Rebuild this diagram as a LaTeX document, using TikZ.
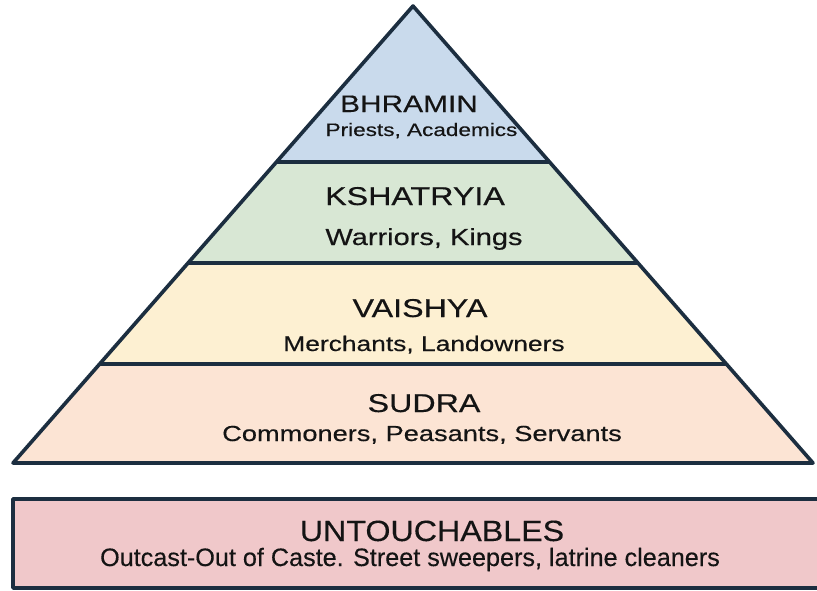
\documentclass[tikz,border=0pt]{standalone}
\usepackage{fontspec}
\newfontfamily\pyrfont[FakeStretch=1.25,FakeBold=0.4]{Liberation Sans}
\newfontfamily\boxtitlefont[FakeStretch=1.1,FakeBold=0.3]{Liberation Sans}
\newfontfamily\boxsubfont[FakeBold=0.3]{Liberation Sans}
\definecolor{edge}{HTML}{1C2E40}
\definecolor{tierA}{HTML}{C9DAEC}
\definecolor{tierB}{HTML}{D8E7D4}
\definecolor{tierC}{HTML}{FDF0D2}
\definecolor{tierD}{HTML}{FCE4D4}
\definecolor{tierE}{HTML}{F0C8CA}
\definecolor{txt}{HTML}{141414}
\tikzset{
  band/.style={draw=edge, line width=3.1pt, line join=round},
  lbl/.style={anchor=base, inner sep=0pt, text=txt},
  ttl/.style={lbl, font=\pyrfont\fontsize{22pt}{26pt}\selectfont}
}
\begin{document}
\begin{tikzpicture}[x=0.03cm, y=-0.03cm]
\useasboundingbox (0,0) rectangle (817,590);
\clip (0,0) rectangle (817,590);
% corner coordinates
\coordinate (apex) at (413,6);
\coordinate (l1) at (276.5,162); \coordinate (r1) at (549.5,162);
\coordinate (l2) at (188.1,263); \coordinate (r2) at (637.9,263);
\coordinate (l3) at (99.7,364);  \coordinate (r3) at (726.3,364);
\coordinate (l4) at (13,463);    \coordinate (r4) at (813,463);
% bands
\fill[tierA] (apex) -- (r1) -- (l1) -- cycle;
\fill[tierB] (l1) -- (r1) -- (r2) -- (l2) -- cycle;
\fill[tierC] (l2) -- (r2) -- (r3) -- (l3) -- cycle;
\fill[tierD] (l3) -- (r3) -- (r4) -- (l4) -- cycle;
\draw[band] (l1) -- (r1);
\draw[band] (l2) -- (r2);
\draw[band] (l3) -- (r3);
\draw[band] (apex) -- (r4) -- (l4) -- cycle;
% bottom box
\coordinate (b1) at (13,499);
\coordinate (b2) at (830,588);
\filldraw[band, fill=tierE] (b1) rectangle (b2);
% labels
\node[lbl, font=\pyrfont\fontsize{20.4pt}{24pt}\selectfont] (t1) at (409,112) {BHRAMIN};
\node[lbl, font=\pyrfont\fontsize{15.4pt}{18pt}\selectfont] (s1) at (421.5,136) {Priests, Academics};
\node[ttl] (t2) at (415,205) {KSHATRYIA};
\node[lbl, font=\pyrfont\fontsize{19.8pt}{23pt}\selectfont] (s2) at (424,245) {Warriors, Kings};
\node[ttl] (t3) at (420,317) {VAISHYA};
\node[lbl, font=\pyrfont\fontsize{18pt}{21pt}\selectfont] (s3) at (424,351) {Merchants, Landowners};
\node[ttl] (t4) at (424,412) {SUDRA};
\node[lbl, font=\pyrfont\fontsize{18.6pt}{22pt}\selectfont] (s4) at (422,441) {Commoners, Peasants, Servants};
\node[lbl, font=\boxtitlefont\fontsize{25pt}{29pt}\selectfont] (t5) at (432,541) {UNTOUCHABLES};
\node[lbl, font=\boxsubfont\fontsize{21.5pt}{25pt}\selectfont] (s5) at (410,566) {Outcast-Out of Caste. Street sweepers, latrine cleaners};
\end{tikzpicture}
\end{document}
